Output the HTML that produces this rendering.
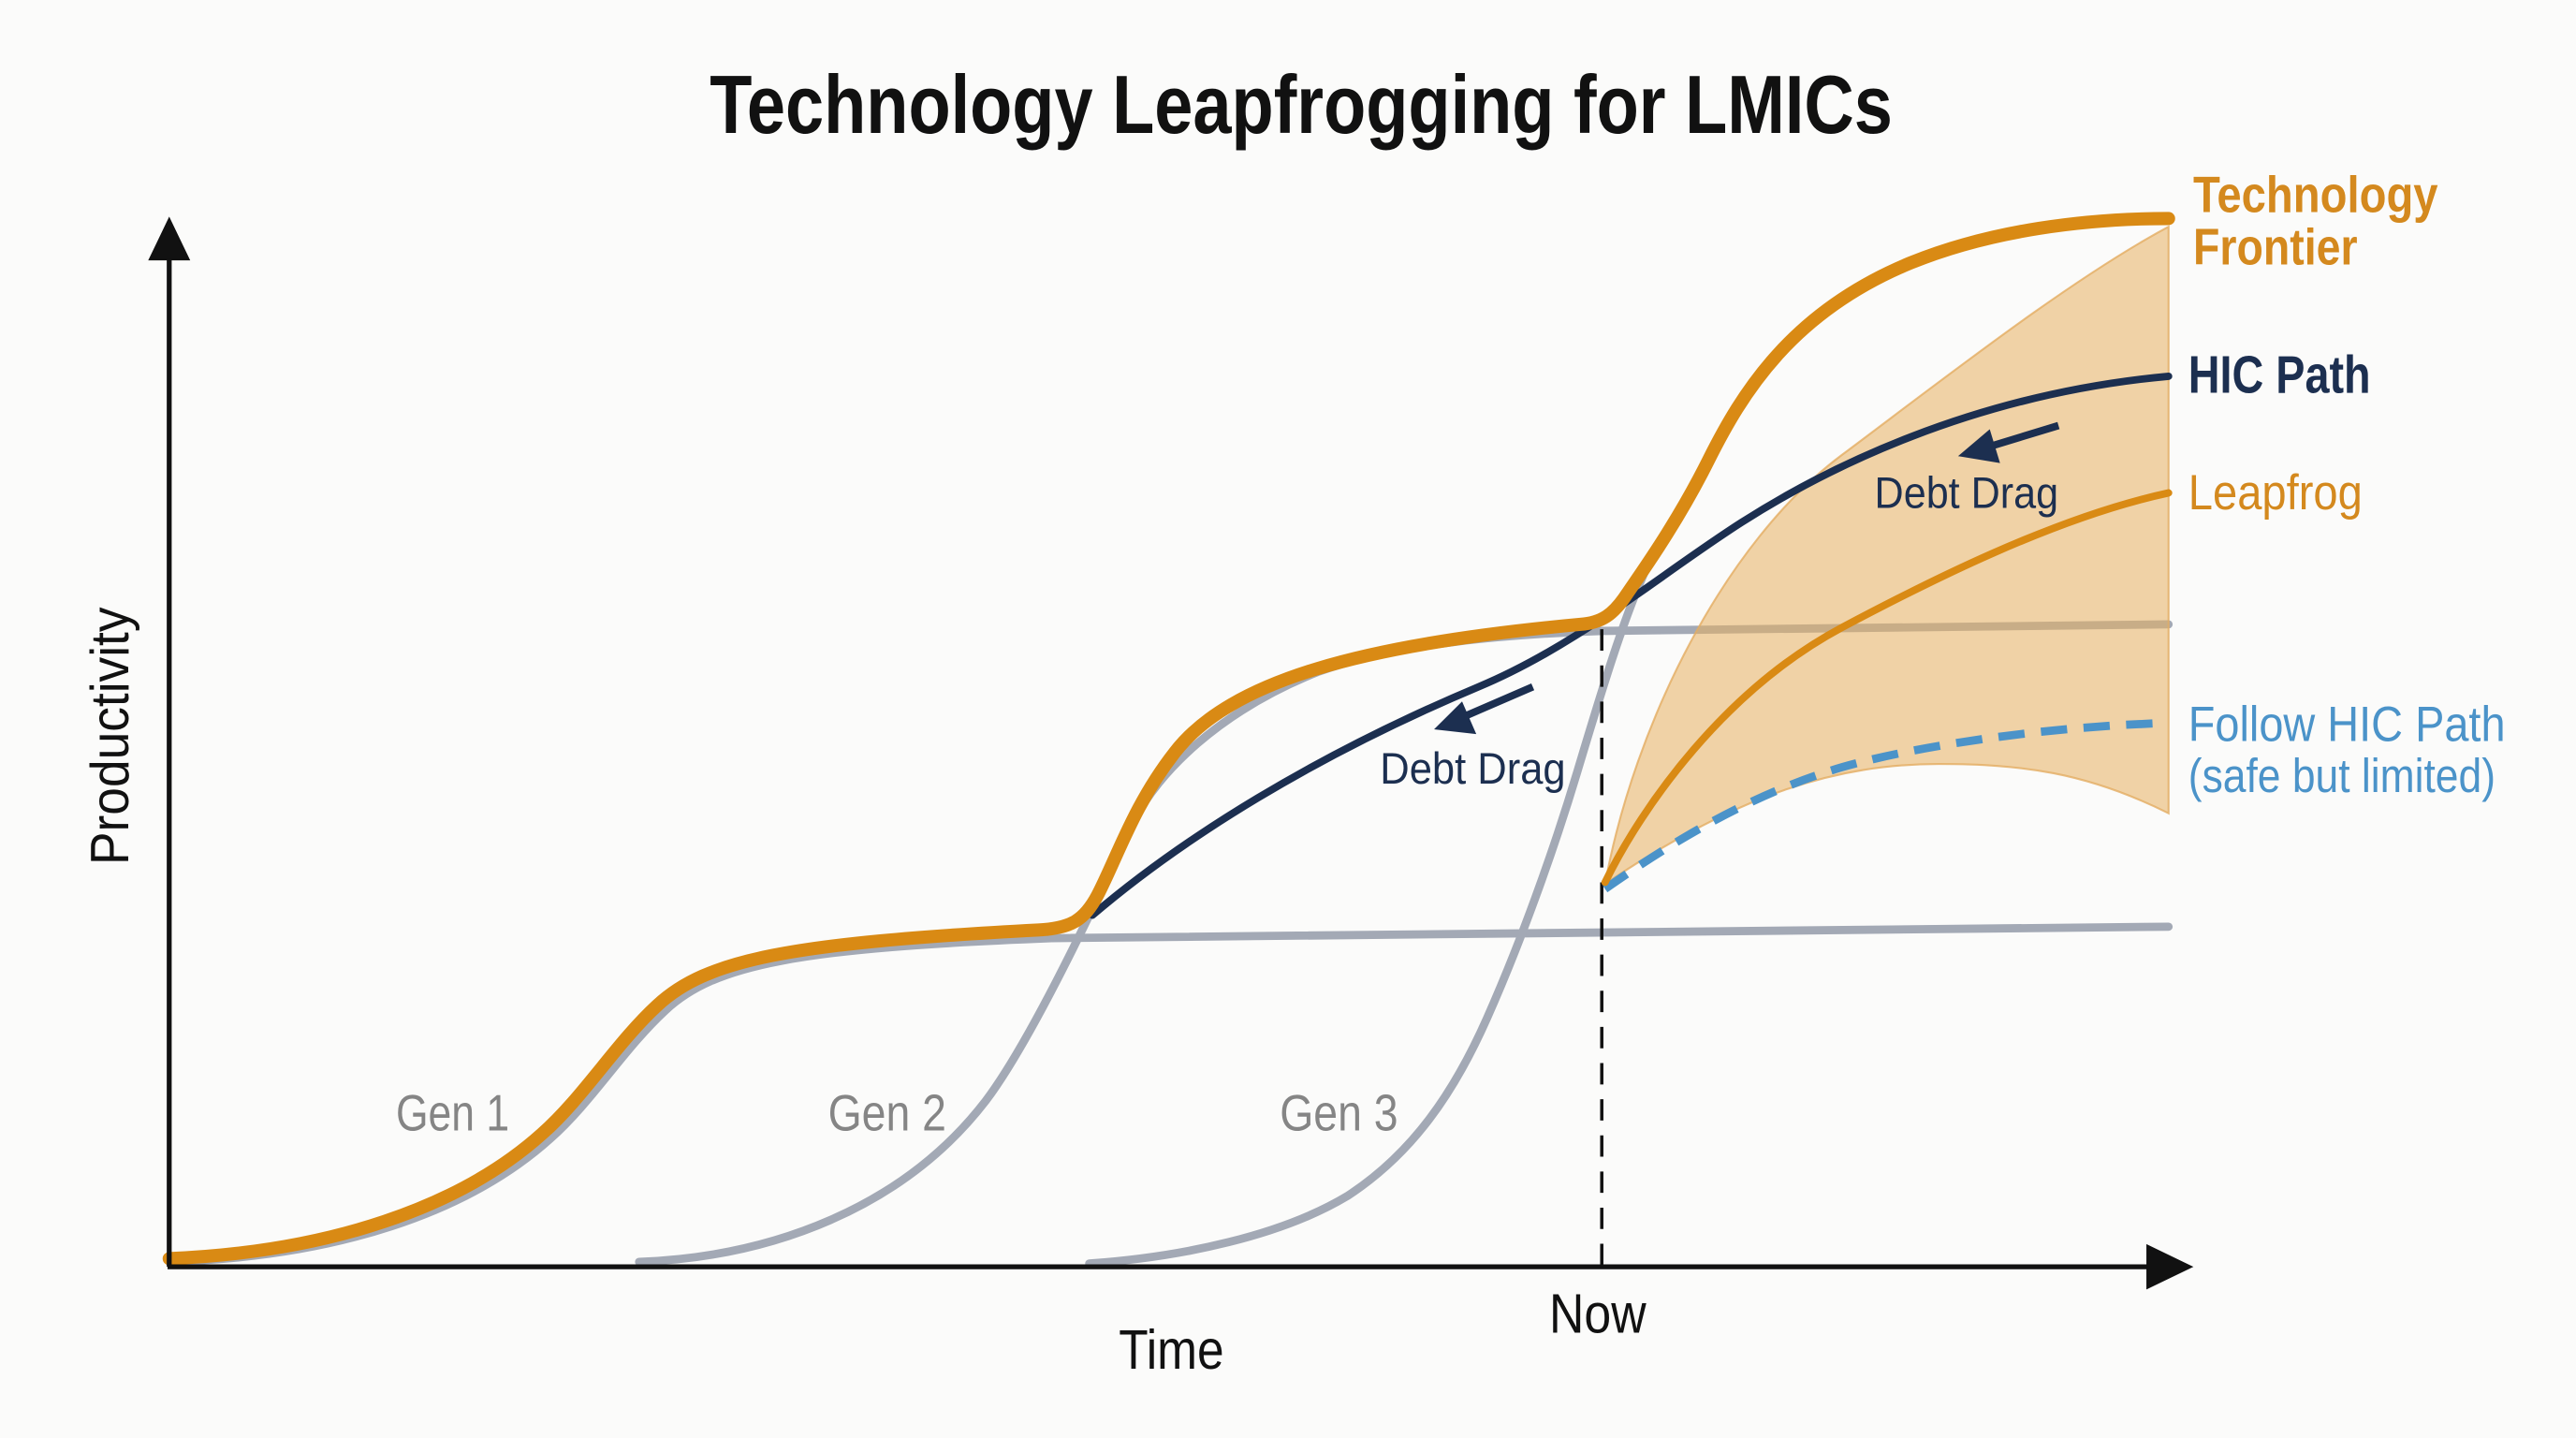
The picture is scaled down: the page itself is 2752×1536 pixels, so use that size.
<!DOCTYPE html>
<html>
<head>
<meta charset="utf-8">
<style>
html,body{margin:0;padding:0;background:#fbfbfa;}
svg{display:block;}
text{font-family:"Liberation Sans","DejaVu Sans",sans-serif;}
</style>
</head>
<body>
<svg width="2752" height="1536" viewBox="0 0 1568 875.2" preserveAspectRatio="none" xmlns="http://www.w3.org/2000/svg">
<rect x="0" y="0" width="1568" height="875.2" fill="#fbfbfa"/>

<!-- Title -->
<text x="432" y="81" font-size="50" font-weight="bold" fill="#111" textLength="720" lengthAdjust="spacingAndGlyphs">Technology Leapfrogging for LMICs</text>

<!-- Gray generation curves -->
<g fill="none" stroke="#a3a9b5" stroke-width="5" stroke-linecap="round">
  <path d="M103,768 C205,765 285,738 335,693 C360,671 380,638 405,615 C435,587 485,577 640,571 L1320,564"/>
  <path d="M389,768 C470,765 550,735 600,670 C625,637 660,565 690,500 C705,470 742,433 802,409 C852,391 920,386 975,384 L1320,380"/>
  <path d="M663,769 C720,765 780,752 820,728 C860,702 885,665 905,620 C925,575 945,520 960,470 C975,420 990,370 1005,340"/>
</g>

<!-- Fan shading -->
<path d="M977,538 C995,440 1050,330 1121,277 C1180,233 1260,170 1320,138 L1320,495 C1270,470 1230,465 1180,465 C1120,465 1060,482 977,538 Z" fill="#e8b060" fill-opacity="0.55" stroke="#e3ad62" stroke-width="1.2" stroke-opacity="0.8"/>

<!-- Now dashed line -->
<line x1="975" y1="383" x2="975" y2="770" stroke="#111" stroke-width="2" stroke-dasharray="13 9"/>

<!-- Follow HIC path dashed -->
<path d="M977,541 C1010,518 1060,485 1121,467 C1170,453 1250,442 1320,440" fill="none" stroke="#4b93c9" stroke-width="5" stroke-dasharray="16 10"/>

<!-- Leapfrog -->
<path d="M977,537 C1000,490 1050,420 1121,382 C1170,356 1250,315 1320,300" fill="none" stroke="#d98a14" stroke-width="4.5" stroke-linecap="round"/>

<!-- HIC path -->
<path d="M665,557 C720,510 800,460 900,418 C960,393 1010,350 1060,318 C1110,286 1200,240 1320,229" fill="none" stroke="#1c2f50" stroke-width="4.5" stroke-linecap="round"/>

<!-- Technology frontier -->
<path d="M103,766 C200,762 280,735 330,690 C355,668 375,635 400,612 C430,584 480,574 632,566 C652,565 660,560 668,545 C680,522 690,490 715,458 C749,414 830,392 962,380 C975,379 982,374 990,362 C998,350 1020,320 1040,280 C1060,240 1090,190 1163,160 C1212,140 1270,133 1320,133" fill="none" stroke="#d98a14" stroke-width="8" stroke-linecap="round" stroke-linejoin="round"/>

<!-- Debt drag arrows -->
<g fill="#1c2f50" stroke="#1c2f50">
  <line x1="933" y1="418" x2="893" y2="435.3" stroke-width="4.5"/>
  <polygon points="874,443.5 897.8,446.2 889.8,427.8" stroke-width="1"/>
  <line x1="1253" y1="259" x2="1212" y2="271.5" stroke-width="4.5"/>
  <polygon points="1193,277.3 1216.7,281.2 1210.9,262.1" stroke-width="1"/>
</g>

<!-- Axes -->
<g stroke="#111" stroke-width="3" fill="#111">
  <line x1="103" y1="771" x2="103" y2="152"/>
  <line x1="102" y1="771" x2="1312" y2="771"/>
  <polygon points="103,133 91,158 115,158" stroke-width="1"/>
  <polygon points="1334,771 1307,758 1307,784" stroke-width="1"/>
</g>

<!-- Axis labels -->
<text x="681" y="833" font-size="34" fill="#111" textLength="64" lengthAdjust="spacingAndGlyphs">Time</text>
<text x="943" y="811" font-size="34" fill="#111" textLength="59" lengthAdjust="spacingAndGlyphs">Now</text>
<text transform="translate(78,448) rotate(-90)" text-anchor="middle" font-size="33" fill="#111" textLength="157" lengthAdjust="spacingAndGlyphs">Productivity</text>

<!-- Gen labels -->
<g fill="#858585" font-size="31">
  <text x="241" y="688" textLength="69" lengthAdjust="spacingAndGlyphs">Gen 1</text>
  <text x="504" y="688" textLength="72" lengthAdjust="spacingAndGlyphs">Gen 2</text>
  <text x="779" y="688" textLength="72" lengthAdjust="spacingAndGlyphs">Gen 3</text>
</g>

<!-- Debt drag labels -->
<g fill="#1c2f50" font-size="27">
  <text x="840" y="477" textLength="113" lengthAdjust="spacingAndGlyphs">Debt Drag</text>
  <text x="1141" y="309" textLength="112" lengthAdjust="spacingAndGlyphs">Debt Drag</text>
</g>

<!-- Right labels -->
<text x="1335" y="129" font-size="31" font-weight="bold" fill="#d4891e" textLength="149" lengthAdjust="spacingAndGlyphs">Technology</text>
<text x="1335" y="161" font-size="31" font-weight="bold" fill="#d4891e" textLength="100" lengthAdjust="spacingAndGlyphs">Frontier</text>
<text x="1332" y="239" font-size="32" font-weight="bold" fill="#1c2f50" textLength="111" lengthAdjust="spacingAndGlyphs">HIC Path</text>
<text x="1332" y="310" font-size="30" fill="#d4891e" textLength="106" lengthAdjust="spacingAndGlyphs">Leapfrog</text>
<text x="1332" y="451" font-size="30" fill="#4b93c9" textLength="193" lengthAdjust="spacingAndGlyphs">Follow HIC Path</text>
<text x="1332" y="482" font-size="29" fill="#4b93c9" textLength="187" lengthAdjust="spacingAndGlyphs">(safe but limited)</text>
</svg>
</body>
</html>
